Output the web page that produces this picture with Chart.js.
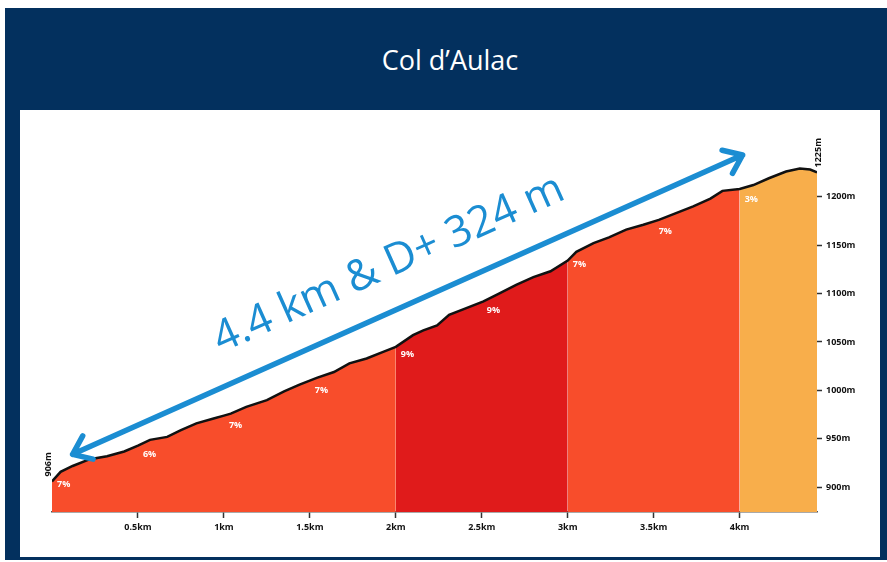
<!DOCTYPE html>
<html>
<head>
<meta charset="utf-8">
<script src="https://cdn.jsdelivr.net/npm/chart.js@4"></script>
<style>
  body { margin: 0; background: #fff; width: 887px; height: 562px; overflow: hidden; }
  #frame { position: absolute; left: 5px; top: 8px; width: 882px; height: 552px; background: #03305e; }
  #panel { position: absolute; left: 20px; top: 110px; width: 860px; height: 447px; background: #fff; }
  #title { position: absolute; left: 5px; top: 8px; width: 882px; height: 102px; box-sizing: border-box; padding-left: 8px;
           display: flex; align-items: center; justify-content: center; color: #fff; font: 500 27px 'Open Sans', sans-serif; }
  #profile { position: absolute; left: 0; top: 0; }
</style>
</head>
<body>
<div id="frame"></div>
<div id="panel"></div>
<div id="title">Col d’Aulac</div>
<canvas id="profile" width="887" height="562"></canvas>
<script>
// elevation profile
const distanceKm = [0, 0.05, 0.12, 0.22, 0.32, 0.42, 0.5, 0.57, 0.67, 0.75, 0.84, 0.94, 1.0, 1.04, 1.13, 1.25, 1.35, 1.44,
  1.54, 1.64, 1.73, 1.83, 1.93, 2.0, 2.1, 2.16, 2.24, 2.31, 2.41, 2.51, 2.6, 2.7, 2.8, 2.9, 3.0, 3.05, 3.15, 3.24, 3.34,
  3.44, 3.53, 3.63, 3.73, 3.83, 3.9, 4.0, 4.08, 4.17, 4.27, 4.35, 4.41, 4.45];
const elevationM = [906, 916, 922, 929, 932, 937, 943, 949, 952, 959, 966, 971, 974, 976, 983, 990, 999, 1006,
  1013, 1019, 1028, 1033, 1040, 1045, 1057, 1062, 1067, 1078, 1085, 1092, 1100, 1109, 1117, 1123, 1134, 1143, 1152, 1158, 1166,
  1171, 1176, 1183, 1190, 1198, 1206, 1208, 1212, 1219, 1226, 1229, 1228, 1225];

// gradient of each half kilometre
const gradeStartKm = [0, 0.5, 1, 1.5, 2, 2.5, 3, 3.5, 4];
const gradePct = [7, 6, 7, 7, 9, 9, 7, 7, 3];

// coloured bands under the profile
const bandStartKm = [0, 2, 3, 4];
const bandEndKm = [2, 3, 4, 4.45];
const bandColors = ['#f84d2b', '#e01b1b', '#f84d2b', '#f8ae4b'];

const xTicksKm = [0.5, 1, 1.5, 2, 2.5, 3, 3.5, 4];
const yTicksM = [900, 950, 1000, 1050, 1100, 1150, 1200];

// annotation arrow (km, m) and its caption
const arrowFrom = [0.12, 934];
const arrowTo = [4.017, 1243];
const captionAt = [1.96, 1130];
const captionText = '4.4 km & D+ 324 m';

const points = distanceKm.map((d, i) => ({ x: d, y: elevationM[i] }));

const bandSets = bandColors.map((c, i) => ({
  data: points.filter(p => p.x >= bandStartKm[i] && p.x <= bandEndKm[i]),
  backgroundColor: c,
  borderWidth: 0,
  pointRadius: 0,
  fill: 'start',
  order: 2
}));

function elevAt(km) {
  for (let i = 1; i < distanceKm.length; i++) {
    if (km <= distanceKm[i]) {
      const t = (km - distanceKm[i - 1]) / (distanceKm[i] - distanceKm[i - 1]);
      return elevationM[i - 1] + t * (elevationM[i] - elevationM[i - 1]);
    }
  }
  return elevationM[elevationM.length - 1];
}

const blue = '#1b8dd2';

const annotations = {
  id: 'annotations',
  afterDatasetsDraw(chart) {
    const ctx = chart.ctx;
    const xs = chart.scales.x, ys = chart.scales.y;

    // grade labels
    ctx.save();
    ctx.fillStyle = '#fff';
    ctx.font = 'bold 9px "Open Sans", sans-serif';
    ctx.textAlign = 'left';
    ctx.textBaseline = 'middle';
    gradeStartKm.forEach((km, i) => {
      const px = xs.getPixelForValue(km) + 5;
      const py = ys.getPixelForValue(elevAt(km + 0.05)) + 13;
      ctx.fillText(gradePct[i] + '%', px, py);
    });
    ctx.restore();

    // start / end elevations, rotated
    ctx.save();
    ctx.fillStyle = '#111';
    ctx.font = 'bold 9px "Open Sans", sans-serif';
    ctx.textAlign = 'left';
    ctx.textBaseline = 'middle';
    const first = [distanceKm[0], elevationM[0]];
    const last = [distanceKm[distanceKm.length - 1], elevationM[elevationM.length - 1]];
    [[first, -4], [last, 1]].forEach(([pt, dx]) => {
      ctx.save();
      ctx.translate(xs.getPixelForValue(pt[0]) + dx, ys.getPixelForValue(pt[1]) - 5);
      ctx.rotate(-Math.PI / 2);
      ctx.fillText(pt[1] + 'm', 0, 0);
      ctx.restore();
    });
    ctx.restore();

    // double arrow
    const x1 = xs.getPixelForValue(arrowFrom[0]), y1 = ys.getPixelForValue(arrowFrom[1]);
    const x2 = xs.getPixelForValue(arrowTo[0]), y2 = ys.getPixelForValue(arrowTo[1]);
    const ang = Math.atan2(y2 - y1, x2 - x1);
    ctx.save();
    ctx.strokeStyle = blue;
    ctx.lineWidth = 5.5;
    ctx.lineCap = 'round';
    ctx.lineJoin = 'round';
    ctx.beginPath();
    ctx.moveTo(x1, y1);
    ctx.lineTo(x2, y2);
    const head = 21, spread = 0.65;
    [[x1, y1, ang], [x2, y2, ang + Math.PI]].forEach(([hx, hy, a]) => {
      ctx.moveTo(hx + head * Math.cos(a - spread), hy + head * Math.sin(a - spread));
      ctx.lineTo(hx, hy);
      ctx.lineTo(hx + head * Math.cos(a + spread), hy + head * Math.sin(a + spread));
    });
    ctx.stroke();

    // caption along the arrow
    ctx.translate(xs.getPixelForValue(captionAt[0]), ys.getPixelForValue(captionAt[1]));
    ctx.rotate(ang);
    ctx.fillStyle = blue;
    ctx.font = '500 43px "Open Sans", sans-serif';
    ctx.textAlign = 'center';
    ctx.textBaseline = 'middle';
    ctx.fillText(captionText, 0, 0);
    ctx.restore();
  }
};

new Chart(document.getElementById('profile'), {
  type: 'line',
  data: {
    datasets: [
      {
        data: points,
        borderColor: '#111',
        borderWidth: 2.5,
        pointRadius: 0,
        fill: false,
        order: 0
      },
      ...bandSets
    ]
  },
  options: {
    responsive: false,
    animation: false,
    devicePixelRatio: 1,
    layout: { padding: { left: 52, top: 140, right: 0, bottom: 0 } },
    plugins: { legend: { display: false }, tooltip: { enabled: false } },
    scales: {
      x: {
        type: 'linear',
        min: 0,
        max: 4.45,
        afterBuildTicks: s => { s.ticks = xTicksKm.map(v => ({ value: v })); },
        afterFit: s => { s.height = 50; },
        grid: { drawOnChartArea: false, tickLength: 6, tickColor: '#333', tickWidth: 1.5 },
        border: { display: true, color: '#555', width: 1.5 },
        ticks: {
          autoSkip: false,
          maxRotation: 0,
          padding: 4,
          color: '#111',
          font: { family: 'Open Sans', size: 9, weight: 'bold' },
          callback: v => v + 'km'
        }
      },
      y: {
        position: 'right',
        min: 874.5,
        max: 1258.5,
        afterBuildTicks: s => { s.ticks = yTicksM.map(v => ({ value: v })); },
        afterFit: s => { s.width = 70; },
        grid: { drawOnChartArea: false, tickLength: 5, tickColor: '#333', tickWidth: 1.5 },
        border: { display: false },
        ticks: {
          padding: 4,
          color: '#111',
          font: { family: 'Open Sans', size: 9, weight: 'bold' },
          callback: v => v + 'm'
        }
      }
    }
  },
  plugins: [annotations]
});
</script>
</body>
</html>
